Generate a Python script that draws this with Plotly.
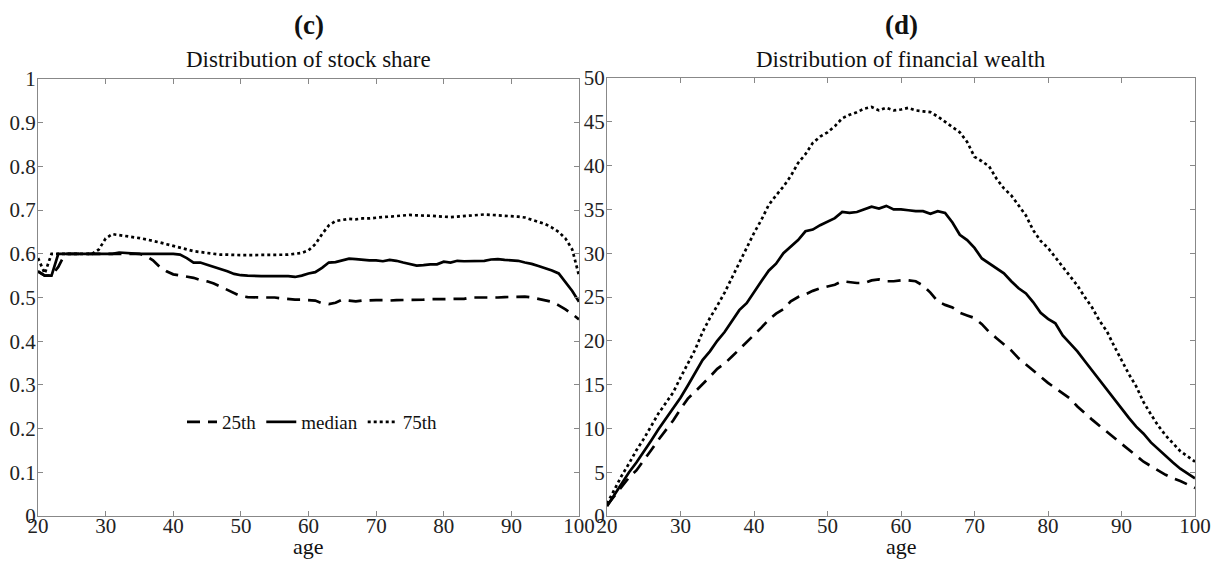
import plotly.graph_objects as go

ages = list(range(20, 101))

share_25 = [0.56, 0.55, 0.55, 0.57, 0.60, 0.60, 0.60, 0.60, 0.60, 0.60,
            0.60, 0.60, 0.60, 0.60, 0.60, 0.60, 0.595, 0.585, 0.57, 0.56,
            0.553, 0.55, 0.548, 0.545, 0.54, 0.537, 0.532, 0.525, 0.518, 0.51,
            0.503, 0.501, 0.50, 0.50, 0.50, 0.50, 0.498, 0.496, 0.495, 0.495,
            0.494, 0.493, 0.487, 0.485, 0.488, 0.495, 0.493, 0.491, 0.493, 0.494,
            0.494, 0.494, 0.493, 0.494, 0.494, 0.495, 0.495, 0.495, 0.496, 0.496,
            0.496, 0.496, 0.497, 0.497, 0.50, 0.50, 0.499, 0.50, 0.50, 0.501,
            0.501, 0.502, 0.502, 0.50, 0.497, 0.494, 0.49, 0.482, 0.473, 0.462,
            0.45]
share_med = [0.56, 0.55, 0.55, 0.60, 0.60, 0.60, 0.60, 0.60, 0.60, 0.60,
             0.60, 0.60, 0.603, 0.602, 0.60, 0.60, 0.60, 0.60, 0.60, 0.60,
             0.60, 0.598, 0.59, 0.58, 0.58, 0.575, 0.57, 0.566, 0.56, 0.554,
             0.551, 0.55, 0.549, 0.549, 0.549, 0.549, 0.549, 0.549, 0.547, 0.55,
             0.555, 0.558, 0.568, 0.58, 0.581, 0.585, 0.589, 0.588, 0.586, 0.585,
             0.585, 0.583, 0.586, 0.584, 0.58, 0.576, 0.573, 0.574, 0.576, 0.576,
             0.582, 0.58, 0.584, 0.583, 0.583, 0.583, 0.584, 0.587, 0.588, 0.586,
             0.585, 0.584, 0.58, 0.577, 0.572, 0.567, 0.562, 0.555, 0.535, 0.515,
             0.49]
share_75 = [0.59, 0.555, 0.60, 0.60, 0.60, 0.60, 0.60, 0.60, 0.60, 0.61,
            0.635, 0.645, 0.643, 0.64, 0.638, 0.636, 0.633, 0.63, 0.626, 0.622,
            0.618, 0.614, 0.61, 0.606, 0.604, 0.602, 0.60, 0.598, 0.598, 0.597,
            0.597, 0.597, 0.597, 0.597, 0.598, 0.598, 0.598, 0.598, 0.60, 0.602,
            0.608, 0.622, 0.645, 0.665, 0.675, 0.678, 0.68, 0.679, 0.681, 0.681,
            0.683, 0.684, 0.685, 0.686, 0.687, 0.689, 0.688, 0.688, 0.687, 0.686,
            0.685, 0.684, 0.685, 0.686, 0.687, 0.688, 0.69, 0.689, 0.688, 0.688,
            0.687, 0.685, 0.683, 0.678, 0.674, 0.668, 0.66, 0.65, 0.635, 0.61,
            0.55]

wealth_25 = [1.2, 2.3, 3.4, 4.4, 5.2, 6.3, 7.5, 8.7, 9.8, 10.9,
             12.2, 13.4, 14.2, 15.0, 15.9, 16.8, 17.4, 18.2, 19.0, 19.8,
             20.6, 21.5, 22.4, 23.1, 23.6, 24.5, 25.0, 25.3, 25.7, 26.0,
             26.2, 26.4, 26.8, 26.7, 26.6, 26.6, 26.9, 27.0, 26.8, 26.8,
             26.9, 26.9, 26.8, 26.3, 25.5, 24.5, 24.1, 23.8, 23.2, 22.9,
             22.6, 21.9, 21.0, 20.3, 19.6, 18.9, 18.0, 17.3, 16.5, 15.8,
             15.2, 14.6, 14.0, 13.4, 12.5, 11.7, 11.0, 10.3, 9.6, 8.9,
             8.2, 7.5, 6.9, 6.2, 5.7, 5.2, 4.7, 4.3, 4.0, 3.6,
             3.2]
wealth_med = [1.1, 2.4, 3.75, 5.0, 6.1, 7.3, 8.6, 9.9, 11.1, 12.2,
              13.5, 14.9, 16.4, 17.8, 18.8, 20.0, 21.0, 22.3, 23.5, 24.3,
              25.6, 26.8, 28.0, 28.8, 30.0, 30.7, 31.5, 32.5, 32.7, 33.2,
              33.6, 34.0, 34.7, 34.6, 34.7, 35.0, 35.3, 35.1, 35.4, 35.0,
              35.0, 34.9, 34.8, 34.8, 34.5, 34.8, 34.6, 33.5, 32.1, 31.5,
              30.6, 29.4, 28.8, 28.2, 27.7, 26.8, 26.0, 25.4, 24.4, 23.2,
              22.5, 22.0, 20.6, 19.7, 18.8, 17.7, 16.6, 15.6, 14.4, 13.4,
              12.3, 11.2, 10.2, 9.4, 8.4, 7.6, 6.8, 6.1, 5.4, 4.8,
              4.3]
wealth_75 = [1.4, 3.0, 4.6, 6.0, 7.5, 8.8, 10.3, 11.7, 12.9, 14.1,
             15.8, 17.4, 19.0, 21.0, 22.6, 24.0, 25.5, 27.2, 28.9, 30.6,
             32.3, 33.8, 35.5, 36.6, 37.6, 38.8, 40.3, 41.3, 42.6, 43.3,
             43.8, 44.5, 45.4, 45.8, 46.1, 46.5, 46.7, 46.3, 46.6, 46.3,
             46.4, 46.6, 46.3, 46.2, 46.1, 45.6, 45.0, 44.5, 43.8, 42.7,
             41.0, 40.5, 39.9, 38.5, 37.4, 36.6, 35.4, 34.3, 32.6, 31.4,
             30.6, 29.5, 28.4, 27.4, 26.3, 25.0, 23.8, 22.3, 21.1, 19.4,
             17.8, 16.2, 14.8, 13.0, 11.6, 10.3, 9.2, 8.3, 7.4, 6.8,
             6.2]

series_names = ["25th", "median", "75th"]
dash_styles = ["13px,8px", "solid", "dot"]
x_ticks = list(range(20, 101, 10))
share_ticks = [0, 0.1, 0.2, 0.3, 0.4, 0.5, 0.6, 0.7, 0.8, 0.9, 1]
share_tick_text = ["0", "0.1", "0.2", "0.3", "0.4", "0.5", "0.6", "0.7", "0.8", "0.9", "1"]
wealth_ticks = list(range(0, 51, 5))

FONT = "Liberation Serif"
PAGE_W, PAGE_H = 1219, 561
OFF = 8  # default page body margin
W, H = PAGE_W - OFF, PAGE_H - OFF
TICK_SIZE = 21
TEXT_SIZE = 23

fig = go.Figure()
for name, ys, dsh in zip(series_names, [share_25, share_med, share_75], dash_styles):
    fig.add_trace(go.Scatter(x=ages, y=ys, mode="lines", name=name,
                             line=dict(color="black", width=2.7, dash=dsh),
                             xaxis="x", yaxis="y", showlegend=True))
for name, ys, dsh in zip(series_names, [wealth_25, wealth_med, wealth_75], dash_styles):
    fig.add_trace(go.Scatter(x=ages, y=ys, mode="lines", name=name,
                             line=dict(color="black", width=2.7, dash=dsh),
                             xaxis="x2", yaxis="y2", showlegend=False))

def px_x(p):
    return (p - OFF) / W

def px_y(p):
    return 1 - (p - OFF) / H

ax_common = dict(showline=True, linecolor="#888888", linewidth=1, mirror="ticks",
                 ticks="inside", ticklen=5, tickcolor="#888888", showgrid=False,
                 zeroline=False, tickfont=dict(family=FONT, size=TICK_SIZE, color="#222222"),
                 automargin=False)

L1, R1, L2, R2 = 38, 579, 607, 1195
BOT, TOP1, TOP2 = 516, 79, 78

fig.update_layout(
    width=W, height=H,
    margin=dict(l=0, r=0, t=0, b=0),
    paper_bgcolor="white", plot_bgcolor="white",
    font=dict(family=FONT, color="#111111"),
    xaxis=dict(domain=[px_x(L1), px_x(R1)], range=[20, 100], tickvals=x_ticks,
               anchor="y", ticklabelstandoff=-9, **ax_common),
    yaxis=dict(domain=[px_y(BOT), px_y(TOP1)], range=[0, 1],
               tickvals=share_ticks, ticktext=share_tick_text,
               anchor="x", ticklabelstandoff=-3, **ax_common),
    xaxis2=dict(domain=[px_x(L2), px_x(R2)], range=[20, 100], tickvals=x_ticks,
                anchor="y2", ticklabelstandoff=-9, **ax_common),
    yaxis2=dict(domain=[px_y(BOT), px_y(TOP2)], range=[0, 50], tickvals=wealth_ticks,
                anchor="x2", ticklabelstandoff=-3, **ax_common),
    legend=dict(orientation="h", x=px_x(312), y=px_y(422), xanchor="center", yanchor="middle",
                bgcolor="rgba(0,0,0,0)", font=dict(family=FONT, size=19),
                itemwidth=30, tracegroupgap=0),
)

def ann(text, xc, yc, size, yanchor="middle"):
    return dict(text=text, x=px_x(xc), y=px_y(yc), xref="paper", yref="paper",
                showarrow=False, font=dict(family=FONT, size=size, color="#111111"),
                xanchor="center", yanchor=yanchor)

mid1 = (L1 + R1) / 2
mid2 = (L2 + R2) / 2
fig.update_layout(annotations=[
    ann("<b>(c)</b>", mid1, OFF, 27, "top"),
    ann("<b>(d)</b>", mid2, OFF, 27, "top"),
    ann("Distribution of stock share", mid1, 59, TEXT_SIZE),
    ann("Distribution of financial wealth", mid2, 59, TEXT_SIZE),
    ann("age", mid1, PAGE_H, 22, "bottom"),
    ann("age", mid2, PAGE_H, 22, "bottom"),
])

fig.write_html("out.html")
